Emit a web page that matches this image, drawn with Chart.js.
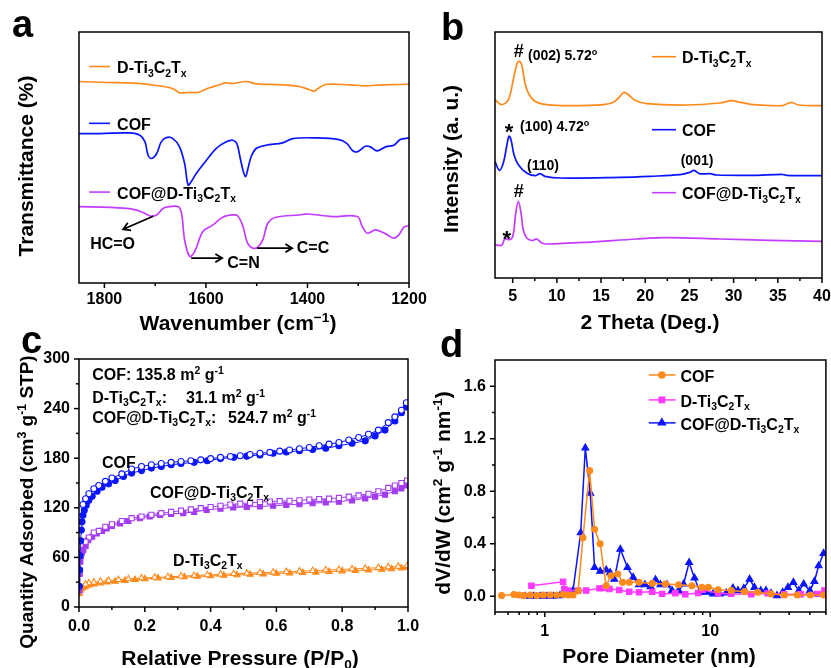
<!DOCTYPE html>
<html>
<head>
<meta charset="utf-8">
<script src="https://cdn.jsdelivr.net/npm/chart.js@4"></script>
<style>
  body { margin: 0; background: #fff; }
  #wrap { position: relative; width: 831px; height: 668px; overflow: hidden; background: #fff; }
  canvas { position: absolute; }
</style>
</head>
<body>
<div id="wrap">
  <canvas id="ca" style="left:0;top:0" width="431" height="340"></canvas>
  <canvas id="cb" style="left:415px;top:0" width="416" height="340"></canvas>
  <canvas id="cc" style="left:0;top:318px" width="431" height="350"></canvas>
  <canvas id="cd" style="left:415px;top:318px" width="416" height="350"></canvas>
</div>
<script>
// ---- series names (markup: _x subscript, ^{..} superscript)
const nameTi = 'D-Ti_3C_2T_x';
const nameCof = 'COF';
const nameComp = 'COF@D-Ti_3C_2T_x';

// ---- (a) FTIR, wavenumber / offset transmittance (a.u.)
const ftirWnTi = [1850,1795,1743,1697,1671,1661,1652,1632,1616,1593,1573,1563,1547,1521,1501,1449,1416,1397,1387,1377,1364,1318,1286,1253,1220,1200];
const ftirTTi  = [202.3,201.3,200.7,198.3,196,194,191,191.3,191.3,196,199,201,200.3,202.3,200,199,197.3,194.3,192.7,196,199.3,199,198,199,199.3,199.7];
const ftirWnCof = [1850,1808,1750,1730,1720,1714,1707,1697,1688,1678,1665,1652,1642,1635,1629,1619,1599,1580,1560,1547,1539,1533,1527,1522,1518,1511,1501,1482,1449,1429,1384,1338,1322,1312,1302,1286,1276,1263,1246,1230,1217,1200];
const ftirTCof  = [150,150,150.7,148.3,141.7,128.3,125,130,141.7,146,145,136.7,120,98.3,101.7,110,123.3,135,141.7,143.3,140,126.7,113.3,106.7,113.3,126.7,135,138.3,140.7,145,145.7,144,140,133.3,131.7,137.3,136.7,132.7,136.7,138.3,144,145.7];
const ftirWnComp = [1850,1789,1743,1724,1710,1697,1684,1671,1655,1648,1642,1632,1622,1606,1586,1567,1547,1537,1527,1518,1508,1498,1488,1478,1462,1416,1400,1351,1302,1292,1282,1266,1246,1230,1220,1210,1200];
const ftirTComp  = [76.7,76,74,70.7,67.3,68.3,75,76.7,76.7,70,43.3,26.7,31.7,51.7,58.3,66,68.3,67.3,56.7,40,35,36,43.3,60,66,68.3,69.3,66.7,66.7,56.7,50,53.3,49.3,45,48.3,56,57.7];
const ftirTicks = [1800,1600,1400,1200];

// ---- (b) XRD, 2theta / offset intensity (a.u.)
const xrdTTi = [3,3.75,4.51,5.07,5.45,5.72,6.02,6.39,6.77,7.53,8.85,11.49,15.26,16.39,17.15,17.6,18.09,18.84,20.16,24.69,28.46,29.78,30.73,32.23,35.44,36.0,36.57,37.33,40];
const xrdITi = [178.3,173.3,178.3,198.3,213.3,216.7,213.3,195,185,176.7,173.3,172.3,173.3,175.7,181.7,185.7,183.3,177.7,174.3,173,175,177.3,175.7,173.3,172.3,174,175.7,173,172.3];
const xrdTCof = [3,3.49,3.94,4.32,4.58,4.81,5.15,5.64,6.58,7.53,8.09,8.66,10.36,17.15,20.54,23.94,25.07,25.52,26.13,27.33,28.08,32.23,35.44,36.0,40];
const xrdICof = [116.7,107.7,115,131.7,141.7,138.3,123.3,113.3,105,102.3,104.3,101.7,100,100.7,101.7,103.3,105.7,107.7,104.3,104.3,103,102.7,103.7,102.7,102.3];
const xrdTComp = [3,3.75,4.13,4.5,4.85,5.1,5.35,5.64,5.95,6.2,6.6,7.2,7.72,8.3,8.85,13.37,19.03,22.43,28.46,34.12,40];
const xrdIComp = [33.3,32.7,39.5,38.3,39,45,65,76.7,65,48,40,37.5,39,35,34,35.7,39,40.3,39,37.7,36.7];
const xrdTicks = [5,10,15,20,25,30,35,40];

// ---- (c) N2 isotherms, P/P0 / quantity adsorbed
const cofAdsP = [0.001,0.002,0.003,0.005,0.007,0.009,0.012,0.016,0.022,0.03,0.04,0.055,0.07,0.09,0.11,0.135,0.16,0.19,0.22,0.25,0.28,0.31,0.35,0.39,0.43,0.47,0.51,0.55,0.59,0.63,0.67,0.71,0.75,0.79,0.83,0.87,0.9,0.93,0.96,0.98,0.995];
const cofAdsQ = [25,45,62,80,93,103,111,117,123,129,134,140,145,149,153,158,162,165,168,170,172,173.5,175,177,179.5,181,182.5,184,186,187.5,189,190.5,192,195,198,201,207,214,225,235,242];
const cofDesP = [0.995,0.98,0.96,0.94,0.91,0.88,0.85,0.82,0.79,0.76,0.73,0.7,0.67,0.64,0.61,0.58,0.55,0.52,0.49,0.46,0.43,0.4,0.37,0.34,0.31,0.28,0.25,0.22,0.19,0.16,0.13,0.1,0.08,0.06,0.045,0.03,0.02,0.012];
const cofDesQ = [247,238,230,223,214,209,205,202,199,197,195,193,191.5,190,188.5,187,186,184.5,183,182,181,179.5,178,177,176,175,173.5,172,170,167,161,156,152,147,143,137,131,124];
const compAdsP = [0.001,0.002,0.004,0.006,0.009,0.013,0.02,0.028,0.04,0.054,0.07,0.084,0.1,0.125,0.15,0.185,0.215,0.246,0.28,0.317,0.35,0.388,0.43,0.469,0.51,0.55,0.59,0.63,0.67,0.71,0.75,0.79,0.83,0.87,0.9,0.93,0.96,0.98,0.997];
const compAdsQ = [20,40,55,62,66,69,74,81,85,89,92,95,98,101,104,107.5,109.5,111.5,112.5,113.6,115,117.6,119,120.4,121,121.6,122.5,123.5,124.4,125.5,126.5,127.5,129,131.5,133.5,136,140,143.5,147];
const compDesP = [0.997,0.98,0.96,0.94,0.91,0.88,0.85,0.82,0.79,0.76,0.73,0.7,0.67,0.64,0.61,0.58,0.55,0.52,0.49,0.46,0.43,0.4,0.37,0.34,0.31,0.28,0.25,0.22,0.19,0.16,0.13,0.1,0.08,0.06,0.045,0.03,0.02];
const compDesQ = [153,150,147,144,140,137,135,133.5,132,131,130.5,130,129,128.5,128,127.5,127,126,125,124,122.5,121,119.5,118,116.5,115,113.5,111.5,109.5,107.5,104,100,97,92,90,84,79];
const tiAdsP = [0.001,0.003,0.006,0.01,0.015,0.02,0.03,0.045,0.064,0.085,0.11,0.14,0.17,0.2,0.24,0.28,0.32,0.36,0.4,0.44,0.48,0.52,0.56,0.6,0.64,0.68,0.72,0.76,0.8,0.84,0.88,0.92,0.95,0.98,0.998];
const tiAdsQ = [16,20,22,23,24,25,26.5,27.5,29,30,31,32,33,34,35,35.5,36.3,37,37.5,38.2,38.8,39.3,39.8,40.5,41,41.5,42,42.8,43.5,44,44.7,45.5,46,47,48];
const tiDesP = [0.998,0.97,0.94,0.91,0.87,0.83,0.79,0.75,0.71,0.67,0.63,0.59,0.55,0.51,0.47,0.43,0.39,0.35,0.31,0.27,0.23,0.19,0.15,0.12,0.09,0.065,0.045,0.03,0.02];
const tiDesQ = [50,49,48.3,47.5,46.8,46,45.3,44.7,44,43.3,42.7,42,41.5,40.8,40.2,39.5,38.8,38,37.3,36.5,35.7,35,34,33,32,31,30,29,27.5];
const isoXTicks = [0,0.2,0.4,0.6,0.8,1];
const isoYTicks = [0,60,120,180,240,300];

// ---- (d) pore size distribution, nm / dV/dW
const psdDCof = [0.548,0.65,0.696,0.746,0.817,0.896,0.98,1.076,1.18,1.29,1.385,1.48,1.59,1.70,1.865,1.999,2.16,2.35,2.51,2.76,2.95,3.24,3.71,4.46,5.36,6.44,7.74,8.89,9.74,11.16,13.4,16.1,19.4,23.3,28.0,33.6,40.3,48.4];
const psdVCof = [0.005,0.013,0.01,0.005,0.01,0.005,0.01,0.01,0.01,0.013,0.01,0.01,0.04,0.446,0.957,0.51,0.4,0.08,0.156,0.17,0.106,0.106,0.106,0.098,0.093,0.088,0.08,0.068,0.068,0.05,0.043,0.035,0.03,0.018,0.01,0.01,0.01,0.01];
const psdDTi = [0.83,1.29,1.31,1.385,1.59,1.78,2.14,2.29,2.46,2.82,3.24,3.71,4.46,5.12,6.15,7.06,8.46,9.0,11.16,13.4,17.7,22.2,28,35.2,44.3,49];
const psdVTi = [0.08,0.11,0.055,0.043,0.043,0.043,0.06,0.063,0.055,0.048,0.035,0.03,0.035,0.018,0.023,0.015,0.025,0.05,0.023,0.018,0.015,0.023,0.015,0.015,0.018,0.043];
const psdDComp = [0.763,0.856,0.938,1.03,1.13,1.235,1.353,1.48,1.648,1.757,1.883,1.999,2.16,2.35,2.48,2.63,2.86,3.16,3.42,3.71,4.03,4.36,4.67,5.0,5.48,5.87,6.44,6.9,7.45,8.03,8.67,9.5,10.4,11.4,12.5,13.7,14.7,15.95,17.3,18.5,20.2,21.7,23.3,25.3,27.4,29.5,31.8,34.3,36.7,40.0,42.6,45.2,48.4];
const psdVComp = [0,0,0,0,0,0.005,0.035,0.043,0.484,1.13,0.786,0.219,0.19,0.2,0.18,0.13,0.358,0.219,0.144,0.088,0.088,0.073,0.126,0.088,0.088,0.043,0.043,0.093,0.257,0.139,0.03,0.03,0.018,0.018,0.025,0.063,0.043,0.06,0.13,0.068,0.043,0.043,0.023,0.005,0.03,0.068,0.106,0.043,0.093,0.043,0.113,0.232,0.327];
const psdXTicks = [1,10];
const psdYTicks = [0,0.4,0.8,1.2,1.6];

const FONT = "'Liberation Sans', Arial, sans-serif";
const ORANGE = '#ff8a1c', BLUE = '#0a14ff', VIOLET = '#c53cff', PURPLE = '#a33cf0', MAGENTA = '#ff38ff';
Chart.defaults.font.family = FONT;
Chart.defaults.font.weight = 'bold';
Chart.defaults.font.size = 16;
Chart.defaults.color = '#000';

const pts = (xs, ys) => xs.map((v, i) => ({ x: v, y: ys[i] }));

// text with simple sub/superscript markup
function parseRich(s) {
  const out = []; let i = 0, buf = '';
  while (i < s.length) {
    const c = s[i];
    if (c === '_' || c === '^') {
      if (buf) { out.push([buf, 0]); buf = ''; }
      let t;
      if (s[i + 1] === '{') { const j = s.indexOf('}', i); t = s.slice(i + 2, j); i = j + 1; }
      else { t = s[i + 1]; i += 2; }
      out.push([t, c === '_' ? 1 : -1]);
    } else { buf += c; i++; }
  }
  if (buf) out.push([buf, 0]);
  return out;
}
function txt(ctx, s, x, y, size, align) {  // y = visual middle of capitals
  const parts = parseRich(s);
  const f = sz => `bold ${sz}px ${FONT}`;
  let w = 0;
  const ws = parts.map(([t, m]) => { ctx.font = f(m ? size * 0.65 : size); const mw = ctx.measureText(t).width; w += mw; return mw; });
  let cx = align === 'center' ? x - w / 2 : align === 'right' ? x - w : x;
  const base = y + size * 0.36;
  ctx.textAlign = 'left'; ctx.textBaseline = 'alphabetic';
  parts.forEach(([t, m], k) => {
    ctx.font = f(m ? size * 0.65 : size);
    ctx.fillText(t, cx, base + (m === 1 ? size * 0.22 : m === -1 ? -size * 0.38 : 0));
    cx += ws[k];
  });
}
function vtxt(ctx, s, x, y, size) {
  ctx.save(); ctx.translate(x, y); ctx.rotate(-Math.PI / 2);
  txt(ctx, s, 0, 0, size, 'center');
  ctx.restore();
}
function letter(ctx, s, x, base) {
  ctx.font = `bold 38px ${FONT}`; ctx.textAlign = 'left'; ctx.textBaseline = 'alphabetic';
  ctx.fillText(s, x, base);
}
function star(ctx, x, y, size) {
  ctx.font = `bold ${size}px ${FONT}`; ctx.textAlign = 'center'; ctx.textBaseline = 'alphabetic';
  ctx.fillText('*', x, y + size * 0.575);
}
function seg(ctx, x1, y1, x2, y2) { ctx.beginPath(); ctx.moveTo(x1, y1); ctx.lineTo(x2, y2); ctx.stroke(); }
function arrow(ctx, x1, y1, x2, y2) {
  const a = Math.atan2(y2 - y1, x2 - x1), h = 8;
  ctx.beginPath(); ctx.moveTo(x1, y1); ctx.lineTo(x2, y2);
  ctx.moveTo(x2 - h * Math.cos(a - 0.55), y2 - h * Math.sin(a - 0.55));
  ctx.lineTo(x2, y2);
  ctx.lineTo(x2 - h * Math.cos(a + 0.55), y2 - h * Math.sin(a + 0.55));
  ctx.stroke();
}

function axis(o) {
  return {
    type: o.type || 'linear', min: o.min, max: o.max, reverse: !!o.reverse,
    grid: { display: false, drawTicks: false },
    border: { display: false },
    ticks: { display: !!o.labels, padding: o.pad || 0, maxRotation: 0, minRotation: 0, autoSkip: false,
             color: '#000', font: { size: 16, weight: 'bold' }, callback: o.fmt || (v => String(v)) },
    afterBuildTicks: s => { s.ticks = (o.labels || []).map(v => ({ value: v })); },
    afterFit: s => {
      if (o.w != null) s.width = o.w;
      if (o.h != null) s.height = o.h;
      s.paddingLeft = s.paddingRight = s.paddingTop = s.paddingBottom = 0;
    }
  };
}

function frame(t, draw) {
  return {
    id: 'frame',
    afterDraw(chart) {
      const { ctx, chartArea: a, scales } = chart;
      const X = v => scales.x.getPixelForValue(v), Y = v => scales.y.getPixelForValue(v);
      ctx.save();
      ctx.strokeStyle = '#000'; ctx.lineWidth = 1.5;
      ctx.strokeRect(a.left, a.top, a.right - a.left, a.bottom - a.top);
      (t.xMajor || []).forEach(v => seg(ctx, X(v), a.bottom, X(v), a.bottom + 5));
      (t.xMinor || []).forEach(v => seg(ctx, X(v), a.bottom, X(v), a.bottom + 3));
      (t.yMajor || []).forEach(v => seg(ctx, a.left, Y(v), a.left - 5, Y(v)));
      (t.yMinor || []).forEach(v => seg(ctx, a.left, Y(v), a.left - 3, Y(v)));
      ctx.fillStyle = '#000';
      draw(ctx, X, Y);
      ctx.restore();
    }
  };
}

function make(id, datasets, xAx, yAx, pad, plugin) {
  return new Chart(document.getElementById(id), {
    type: 'scatter',
    data: { datasets },
    options: {
      responsive: false, animation: false, events: [],
      layout: { padding: Object.assign({ left: 0, right: 0, top: 0, bottom: 0 }, pad) },
      plugins: { legend: { display: false }, tooltip: { enabled: false } },
      scales: { x: xAx, y: yAx }
    },
    plugins: [plugin]
  });
}

const spec = (label, xs, ys, color) => ({ label, data: pts(xs, ys), showLine: true, borderColor: color,
  borderWidth: 1.7, pointRadius: 0, tension: 0.35 });
const mark = (label, xs, ys, color, style, r, open, lw) => ({ label, data: pts(xs, ys), showLine: true,
  borderColor: color, borderWidth: lw, pointStyle: style, pointRadius: r,
  pointBackgroundColor: open ? '#fff' : color, pointBorderColor: color, pointBorderWidth: 1.1 });

// ---------- (a)
make('ca', [
  spec('D-Ti₃C₂Tₓ', ftirWnTi, ftirTTi, ORANGE),
  spec('COF', ftirWnCof, ftirTCof, BLUE),
  spec('COF@D-Ti₃C₂Tₓ', ftirWnComp, ftirTComp, VIOLET)
],
  axis({ min: 1200, max: 1850, reverse: true, labels: ftirTicks, pad: 7, h: 57 }),
  axis({ min: 0, max: 252, w: 79 }),
  { top: 32, right: 22 },
  frame({ xMajor: ftirTicks, xMinor: [1700, 1500, 1300] }, (ctx, X, Y) => {
    letter(ctx, 'a', 12, 37);
    txt(ctx, 'Wavenumber (cm^{−1})', 238, 322, 21, 'center');
    vtxt(ctx, 'Transmittance (%)', 25, 166, 21);
    [[ORANGE, nameTi, 217.3], [BLUE, nameCof, 160.3], [VIOLET, nameComp, 91.3]].forEach(([c, s, v]) => {
      ctx.strokeStyle = c; ctx.lineWidth = 1.6; seg(ctx, X(1830), Y(v), X(1789), Y(v));
      ctx.fillStyle = '#000'; txt(ctx, s, X(1775), Y(v) + 1, 16, 'left');
    });
    ctx.strokeStyle = '#000'; ctx.lineWidth = 1.8;
    arrow(ctx, X(1704), Y(67), X(1763), Y(54));
    txt(ctx, 'HC=O', X(1828), Y(40), 16, 'left');
    arrow(ctx, X(1629), Y(25), X(1568), Y(25));
    txt(ctx, 'C=N', X(1558), Y(21), 16, 'left');
    arrow(ctx, X(1499), Y(35), X(1430), Y(35));
    txt(ctx, 'C=C', X(1421), Y(36), 16, 'left');
  }));

// ---------- (b)
make('cb', [
  spec('D-Ti₃C₂Tₓ', xrdTTi, xrdITi, ORANGE),
  spec('COF', xrdTCof, xrdICof, BLUE),
  spec('COF@D-Ti₃C₂Tₓ', xrdTComp, xrdIComp, VIOLET)
],
  axis({ min: 3, max: 40, labels: xrdTicks, pad: 9, h: 62 }),
  axis({ min: 0, max: 246, w: 80 }),
  { top: 32, right: 9 },
  frame({ xMajor: xrdTicks, xMinor: [7.5, 12.5, 17.5, 22.5, 27.5, 32.5, 37.5] }, (ctx, X, Y) => {
    letter(ctx, 'b', 26, 40);
    txt(ctx, '2 Theta (Deg.)', 235, 321, 21, 'center');
    vtxt(ctx, 'Intensity (a. u.)', 35, 159, 21);
    [[ORANGE, nameTi, 221.3], [BLUE, nameCof, 148.3], [VIOLET, nameComp, 85.3]].forEach(([c, s, v]) => {
      ctx.strokeStyle = c; ctx.lineWidth = 1.6; seg(ctx, X(20.76), Y(v), X(23.48), Y(v));
      ctx.fillStyle = '#000'; txt(ctx, s, X(24.16), Y(v) + 1, 16, 'left');
    });
    txt(ctx, '#', X(5.68), Y(227.6), 18, 'center');
    txt(ctx, '(002) 5.72^o', X(6.73), Y(222.6), 14, 'left');
    star(ctx, X(4.58), Y(151.6), 22);
    txt(ctx, '(100) 4.72^o', X(5.83), Y(151.6), 14, 'left');
    txt(ctx, '(110)', X(8.43), Y(112.6), 14, 'center');
    txt(ctx, '(001)', X(25.86), Y(117.6), 14, 'center');
    txt(ctx, '#', X(5.68), Y(87.6), 18, 'center');
    star(ctx, X(4.32), Y(45), 22);
  }));

// ---------- (c)
make('cc', [
  mark('COF desorption', cofDesP, cofDesQ, BLUE, 'circle', 3, true, 1),
  mark('COF adsorption', cofAdsP, cofAdsQ, BLUE, 'circle', 3, false, 1),
  mark('COF@D-Ti₃C₂Tₓ desorption', compDesP, compDesQ, PURPLE, 'rect', 3.6, true, 1),
  mark('COF@D-Ti₃C₂Tₓ adsorption', compAdsP, compAdsQ, PURPLE, 'rect', 3.6, false, 1),
  mark('D-Ti₃C₂Tₓ desorption', tiDesP, tiDesQ, ORANGE, 'triangle', 3.6, true, 1),
  mark('D-Ti₃C₂Tₓ adsorption', tiAdsP, tiAdsQ, ORANGE, 'triangle', 3.6, false, 1)
],
  axis({ min: 0, max: 1, labels: isoXTicks, pad: 10, h: 61, fmt: v => v.toFixed(1) }),
  axis({ min: 0, max: 300, labels: isoYTicks, pad: 9, w: 79 }),
  { top: 41, right: 23 },
  frame({ xMajor: isoXTicks, xMinor: [0.1, 0.3, 0.5, 0.7, 0.9], yMajor: isoYTicks, yMinor: [30, 90, 150, 210, 270] }, (ctx, X, Y) => {
    letter(ctx, 'c', 21, 35);
    txt(ctx, 'Relative Pressure (P/P_0)', 240, 339, 21, 'center');
    vtxt(ctx, 'Quantity Adsorbed (cm^3 g^{-1} STP)', 26, 184, 19);
    txt(ctx, 'COF: 135.8 m^2 g^{-1}', X(0.04), Y(282), 16, 'left');
    txt(ctx, nameTi + ':', X(0.04), Y(254), 16, 'left');
    txt(ctx, '31.1 m^2 g^{-1}', X(0.325), Y(254), 16, 'left');
    txt(ctx, nameComp + ':', X(0.04), Y(230), 16, 'left');
    txt(ctx, '524.7 m^2 g^{-1}', X(0.453), Y(230), 16, 'left');
    txt(ctx, nameCof, X(0.07), Y(175.4), 16, 'left');
    txt(ctx, nameComp, X(0.216), Y(139), 16, 'left');
    txt(ctx, nameTi, X(0.286), Y(56.9), 16, 'left');
  }));

// ---------- (d)
make('cd', [
  mark('COF', psdDCof, psdVCof, ORANGE, 'circle', 3, false, 1.5),
  mark('D-Ti₃C₂Tₓ', psdDTi, psdVTi, MAGENTA, 'rect', 3.8, false, 1.5),
  mark('COF@D-Ti₃C₂Tₓ', psdDComp, psdVComp, BLUE, 'triangle', 4, false, 1.5)
],
  axis({ type: 'logarithmic', min: 0.5, max: 50, labels: psdXTicks, pad: 10, h: 56 }),
  axis({ min: -0.12, max: 1.8, labels: psdYTicks, pad: 9, w: 80, fmt: v => v.toFixed(1) }),
  { top: 42, right: 3 },
  frame({ xMajor: psdXTicks, xMinor: [0.5, 0.6, 0.7, 0.8, 0.9, 2, 3, 4, 5, 6, 7, 8, 9, 20, 30, 40, 50],
          yMajor: psdYTicks, yMinor: [0.2, 0.6, 1.0, 1.4] }, (ctx, X, Y) => {
    letter(ctx, 'd', 25, 39);
    txt(ctx, 'Pore Diameter (nm)', 244, 337, 21, 'center');
    vtxt(ctx, 'dV/dW (cm^2 g^{-1} nm^{-1})', 27, 175, 21);
    [[ORANGE, 'circle', 3, nameCof, 1.686], [MAGENTA, 'rect', 3.8, nameTi, 1.496], [BLUE, 'triangle', 4, nameComp, 1.321]].forEach(([c, st, r, s, v]) => {
      ctx.strokeStyle = c; ctx.fillStyle = c; ctx.lineWidth = 1.5;
      seg(ctx, X(4.25), Y(v), X(6.17), Y(v));
      Chart.helpers.drawPoint(ctx, { pointStyle: st, radius: r, borderWidth: 1 }, X(5.1), Y(v));
      ctx.fillStyle = '#000'; txt(ctx, s, X(6.6), Y(v) + 1, 16, 'left');
    });
  }));
</script>
</body>
</html>
